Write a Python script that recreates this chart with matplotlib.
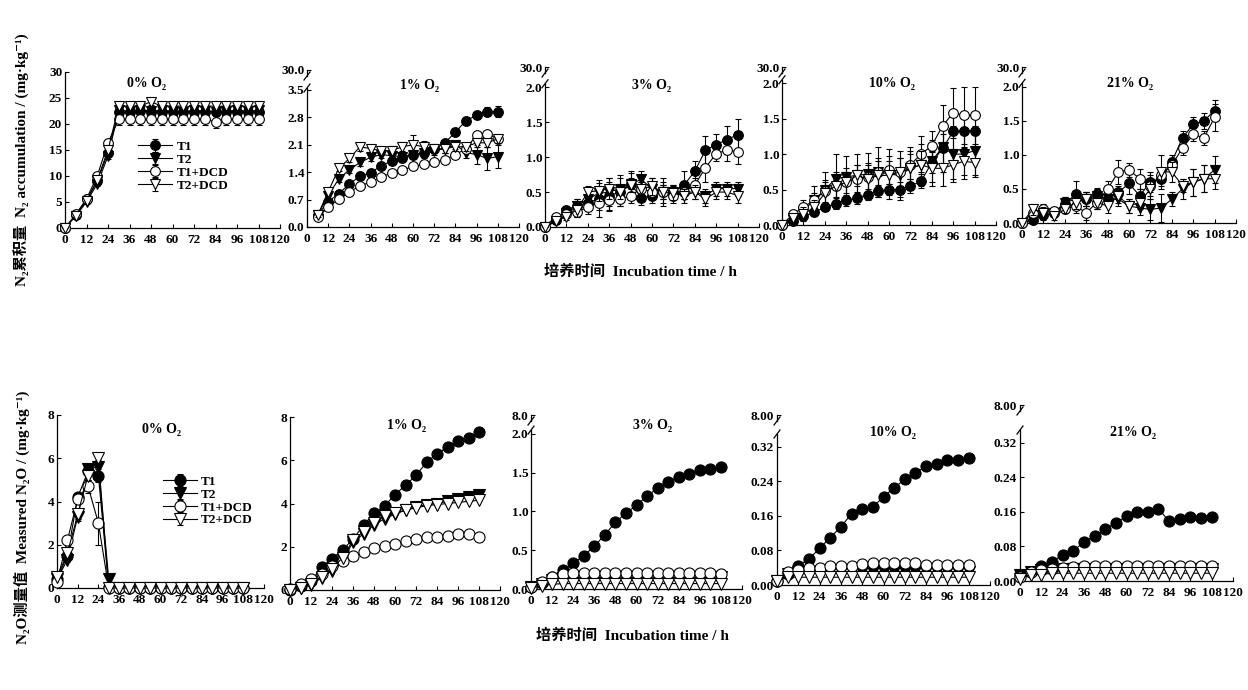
import numpy as np
import matplotlib.pyplot as plt

plt.rcParams['font.family'] = ['Liberation Serif', 'DejaVu Serif', 'Noto Sans CJK SC']
plt.rcParams['font.weight'] = 'bold'
plt.rcParams['axes.linewidth'] = 0.9

hours = [0, 6, 12, 18, 24, 30, 36, 42, 48, 54, 60, 66, 72, 78, 84, 90, 96, 102, 108]
treatments = ['T1', 'T2', 'T1+DCD', 'T2+DCD']
o2_labels = ['0% O₂', '1% O₂', '3% O₂', '10% O₂', '21% O₂']
x_ticks = [0, 12, 24, 36, 48, 60, 72, 84, 96, 108, 120]

# ---- N2 accumulation (mg/kg), rows: T1, T2, T1+DCD, T2+DCD ----
n2_0 = [
    [0, 2.5, 5.5, 9.0, 14.5, 22.4, 22.3, 22.5, 22.3, 22.4, 22.3, 22.4, 22.3, 22.4, 22.3, 22.4, 22.3, 22.3, 22.4],
    [0, 2.3, 5.0, 8.5, 13.8, 22.6, 22.5, 22.7, 22.5, 22.6, 22.5, 22.4, 22.6, 22.5, 22.4, 22.5, 22.6, 22.5, 22.6],
    [0, 2.6, 5.6, 10.0, 16.4, 20.9, 21.0, 20.9, 21.0, 20.9, 21.0, 20.9, 21.0, 20.9, 20.4, 21.0, 20.9, 21.0, 20.9],
    [0, 2.4, 5.2, 9.2, 15.0, 23.4, 23.5, 23.4, 24.3, 23.4, 23.5, 23.4, 23.4, 23.5, 23.4, 23.4, 23.5, 23.4, 23.4],
]
n2_0_err = [
    [0, 0.3, 0.4, 0.5, 0.6, 0.7, 0.7, 0.7, 0.7, 0.7, 0.7, 0.7, 0.7, 0.7, 0.7, 0.7, 0.7, 0.7, 0.7],
    [0, 0.3, 0.4, 0.5, 0.6, 0.8, 0.8, 0.8, 0.8, 0.8, 0.8, 0.8, 0.8, 0.8, 0.8, 0.8, 0.8, 0.8, 0.8],
    [0, 0.3, 0.4, 0.5, 0.6, 1.1, 1.1, 1.1, 1.1, 1.1, 1.1, 1.1, 1.1, 1.1, 1.1, 1.1, 1.1, 1.1, 1.1],
    [0, 0.3, 0.4, 0.5, 0.6, 0.7, 0.7, 0.7, 0.6, 0.7, 0.7, 0.7, 0.7, 0.7, 0.7, 0.7, 0.7, 0.7, 0.7],
]
n2_1 = [
    [None, 0.30, 0.65, 0.85, 1.10, 1.30, 1.38, 1.57, 1.68, 1.75, 1.85, 1.90, 2.00, 2.15, 2.42, 2.72, 2.85, 2.95, 2.95],
    [None, 0.30, 0.80, 1.23, 1.46, 1.65, 1.78, 1.85, 1.82, 1.80, 1.85, 1.88, 1.95, 2.00, 2.10, 1.90, 1.85, 1.75, 1.80],
    [None, 0.25, 0.50, 0.72, 0.90, 1.05, 1.15, 1.28, 1.38, 1.45, 1.55, 1.60, 1.65, 1.72, 1.85, 2.00, 2.35, 2.38, 2.25],
    [None, 0.30, 0.90, 1.50, 1.75, 2.05, 2.00, 1.95, 1.95, 2.05, 2.10, 2.05, 2.00, 2.00, 2.05, 2.05, 2.15, 2.15, 2.25],
]
n2_1_err = [
    [0, 0.05, 0.05, 0.05, 0.05, 0.05, 0.05, 0.05, 0.05, 0.08, 0.10, 0.10, 0.10, 0.08, 0.08, 0.10, 0.10, 0.12, 0.15],
    [0, 0.05, 0.08, 0.08, 0.08, 0.10, 0.10, 0.10, 0.10, 0.10, 0.12, 0.12, 0.10, 0.10, 0.10, 0.15, 0.25, 0.30, 0.30],
    [0, 0.05, 0.05, 0.05, 0.05, 0.05, 0.05, 0.05, 0.05, 0.05, 0.05, 0.05, 0.05, 0.05, 0.05, 0.05, 0.08, 0.08, 0.08],
    [0, 0.05, 0.08, 0.08, 0.08, 0.10, 0.10, 0.12, 0.12, 0.12, 0.25, 0.15, 0.12, 0.10, 0.10, 0.10, 0.10, 0.10, 0.10],
]
n2_3 = [
    [0.00, 0.10, 0.25, 0.30, 0.35, 0.40, 0.45, 0.50, 0.62, 0.42, 0.45, 0.50, 0.50, 0.60, 0.80, 1.10, 1.18, 1.25, 1.32],
    [0.00, 0.08, 0.20, 0.30, 0.40, 0.48, 0.50, 0.55, 0.62, 0.68, 0.55, 0.50, 0.50, 0.50, 0.50, 0.45, 0.55, 0.55, 0.55],
    [0.00, 0.15, 0.18, 0.22, 0.28, 0.35, 0.38, 0.40, 0.45, 0.55, 0.50, 0.50, 0.45, 0.50, 0.60, 0.85, 1.05, 1.10, 1.08],
    [0.00, 0.08, 0.15, 0.25, 0.50, 0.52, 0.55, 0.50, 0.60, 0.55, 0.58, 0.50, 0.48, 0.45, 0.50, 0.40, 0.50, 0.50, 0.45],
]
n2_3_err = [
    [0, 0.03, 0.05, 0.10, 0.12, 0.15, 0.20, 0.20, 0.18, 0.10, 0.10, 0.10, 0.10, 0.20, 0.15, 0.20, 0.15, 0.20, 0.22],
    [0, 0.03, 0.05, 0.10, 0.12, 0.15, 0.20, 0.20, 0.15, 0.12, 0.15, 0.20, 0.10, 0.10, 0.10, 0.10, 0.10, 0.10, 0.10],
    [0, 0.03, 0.05, 0.08, 0.10, 0.20, 0.15, 0.10, 0.10, 0.10, 0.10, 0.15, 0.10, 0.10, 0.10, 0.20, 0.10, 0.15, 0.18],
    [0, 0.03, 0.05, 0.10, 0.08, 0.15, 0.15, 0.10, 0.10, 0.10, 0.12, 0.10, 0.10, 0.10, 0.10, 0.10, 0.10, 0.10, 0.10],
]
n2_10 = [
    [0.00, 0.05, 0.12, 0.18, 0.25, 0.30, 0.35, 0.38, 0.43, 0.48, 0.50, 0.50, 0.55, 0.62, 0.88, 1.08, 1.32, 1.33, 1.33],
    [0.00, 0.08, 0.20, 0.35, 0.50, 0.65, 0.68, 0.70, 0.72, 0.75, 0.72, 0.70, 0.80, 0.85, 0.90, 1.10, 1.00, 1.00, 1.05],
    [0.00, 0.15, 0.25, 0.35, 0.48, 0.55, 0.60, 0.65, 0.68, 0.75, 0.78, 0.75, 0.85, 1.00, 1.12, 1.40, 1.58, 1.55, 1.55],
    [0.00, 0.10, 0.15, 0.25, 0.45, 0.55, 0.60, 0.70, 0.65, 0.70, 0.70, 0.75, 0.80, 0.85, 0.80, 0.80, 0.85, 0.90, 0.88],
]
n2_10_err = [
    [0, 0.03, 0.05, 0.05, 0.05, 0.08, 0.08, 0.08, 0.08, 0.08, 0.08, 0.10, 0.10, 0.10, 0.15, 0.20, 0.25, 0.25, 0.25],
    [0, 0.05, 0.10, 0.20, 0.25, 0.35, 0.30, 0.30, 0.30, 0.35, 0.35, 0.35, 0.30, 0.30, 0.30, 0.35, 0.40, 0.35, 0.35],
    [0, 0.05, 0.10, 0.10, 0.15, 0.20, 0.20, 0.20, 0.20, 0.20, 0.20, 0.20, 0.20, 0.25, 0.20, 0.30, 0.35, 0.40, 0.40],
    [0, 0.05, 0.10, 0.10, 0.15, 0.15, 0.15, 0.15, 0.20, 0.20, 0.20, 0.20, 0.20, 0.20, 0.25, 0.25, 0.20, 0.20, 0.20],
]
n2_21 = [
    [0.00, 0.05, 0.12, 0.15, 0.28, 0.42, 0.35, 0.42, 0.35, 0.45, 0.58, 0.40, 0.60, 0.65, 0.90, 1.25, 1.45, 1.50, 1.65],
    [0.00, 0.05, 0.10, 0.15, 0.30, 0.35, 0.35, 0.40, 0.35, 0.35, 0.25, 0.22, 0.20, 0.22, 0.35, 0.50, 0.60, 0.65, 0.78],
    [0.00, 0.15, 0.20, 0.18, 0.20, 0.25, 0.15, 0.30, 0.50, 0.75, 0.78, 0.65, 0.55, 0.70, 0.85, 1.10, 1.30, 1.25, 1.55],
    [0.00, 0.20, 0.15, 0.10, 0.20, 0.30, 0.35, 0.30, 0.25, 0.40, 0.25, 0.30, 0.50, 0.75, 0.75, 0.55, 0.60, 0.65, 0.65],
]
n2_21_err = [
    [0, 0.03, 0.05, 0.05, 0.10, 0.20, 0.10, 0.10, 0.10, 0.10, 0.15, 0.10, 0.15, 0.10, 0.10, 0.10, 0.10, 0.12, 0.15],
    [0, 0.03, 0.05, 0.05, 0.08, 0.10, 0.10, 0.10, 0.10, 0.10, 0.10, 0.10, 0.15, 0.20, 0.10, 0.15, 0.20, 0.20, 0.20],
    [0, 0.05, 0.08, 0.05, 0.05, 0.10, 0.10, 0.10, 0.12, 0.18, 0.10, 0.15, 0.15, 0.10, 0.10, 0.10, 0.10, 0.10, 0.20],
    [0, 0.08, 0.08, 0.05, 0.05, 0.10, 0.10, 0.10, 0.10, 0.10, 0.10, 0.10, 0.15, 0.25, 0.15, 0.10, 0.20, 0.20, 0.15],
]

# ---- measured N2O (mg/kg), rows: T1, T2, T1+DCD, T2+DCD ----
n2o_0 = [
    [0.4, 1.5, 4.2, 5.4, 5.2, 0.05, 0, 0, 0, 0, 0, 0, 0, 0, 0, 0, 0, 0, 0],
    [0.4, 1.3, 3.3, 5.5, 5.6, 0.4, 0, 0, 0, 0, 0, 0, 0, 0, 0, 0, 0, 0, 0],
    [0.3, 2.2, 4.1, 4.7, 3.0, 0, 0, 0, 0, 0, 0, 0, 0, 0, 0, 0, 0, 0, 0],
    [0.5, 1.6, 3.4, 5.2, 6.0, 0, 0, 0, 0, 0, 0, 0, 0, 0, 0, 0, 0, 0, 0],
]
n2o_0_err = [
    [0, 0.1, 0.2, 0.2, 0.3, 0, 0, 0, 0, 0, 0, 0, 0, 0, 0, 0, 0, 0, 0],
    [0, 0.1, 0.2, 0.2, 0.3, 0.1, 0, 0, 0, 0, 0, 0, 0, 0, 0, 0, 0, 0, 0],
    [0, 0.1, 0.2, 0.3, 1.0, 0, 0, 0, 0, 0, 0, 0, 0, 0, 0, 0, 0, 0, 0],
    [0, 0.1, 0.2, 0.2, 0.2, 0, 0, 0, 0, 0, 0, 0, 0, 0, 0, 0, 0, 0, 0],
]
n2o_1 = [
    [0.0, 0.2, 0.4, 1.05, 1.45, 1.85, 2.35, 3.0, 3.55, 3.9, 4.4, 4.85, 5.3, 5.9, 6.3, 6.6, 6.9, 7.05, 7.3],
    [0.0, 0.1, 0.25, 0.55, 0.9, 1.4, 2.2, 2.6, 3.0, 3.3, 3.5, 3.7, 3.85, 3.95, 4.0, 4.1, 4.2, 4.3, 4.4],
    [0.05, 0.3, 0.5, 0.75, 1.1, 1.35, 1.55, 1.75, 1.95, 2.05, 2.15, 2.25, 2.35, 2.45, 2.45, 2.5, 2.6, 2.6, 2.45],
    [0.0, 0.1, 0.3, 0.6, 0.95, 1.5, 2.3, 2.7, 3.1, 3.4, 3.55, 3.7, 3.8, 3.9, 3.95, 4.0, 4.05, 4.1, 4.15],
]
n2o_3 = [
    [0.02, 0.08, 0.15, 0.25, 0.33, 0.43, 0.55, 0.70, 0.86, 0.98, 1.08, 1.20, 1.30, 1.38, 1.45, 1.48, 1.54, 1.55, 1.57],
    [0.02, 0.06, 0.11, 0.14, 0.15, 0.15, 0.15, 0.15, 0.15, 0.15, 0.15, 0.15, 0.15, 0.15, 0.15, 0.15, 0.15, 0.15, 0.15],
    [0.02, 0.09, 0.15, 0.19, 0.20, 0.20, 0.20, 0.20, 0.20, 0.20, 0.20, 0.20, 0.20, 0.20, 0.20, 0.20, 0.20, 0.20, 0.19],
    [0.01, 0.04, 0.06, 0.07, 0.07, 0.07, 0.07, 0.07, 0.07, 0.07, 0.07, 0.07, 0.07, 0.07, 0.07, 0.07, 0.07, 0.07, 0.07],
]
n2o_10 = [
    [0.010, 0.025, 0.045, 0.060, 0.085, 0.110, 0.135, 0.165, 0.175, 0.180, 0.205, 0.225, 0.245, 0.260, 0.275, 0.280, 0.290, 0.290, 0.295],
    [0.010, 0.025, 0.030, 0.030, 0.030, 0.030, 0.030, 0.030, 0.030, 0.030, 0.030, 0.030, 0.030, 0.030, 0.030, 0.030, 0.030, 0.030, 0.030],
    [0.010, 0.030, 0.035, 0.040, 0.040, 0.045, 0.045, 0.045, 0.048, 0.050, 0.050, 0.050, 0.050, 0.050, 0.046, 0.046, 0.046, 0.046, 0.046],
    [0.010, 0.018, 0.018, 0.018, 0.018, 0.018, 0.018, 0.018, 0.018, 0.018, 0.018, 0.018, 0.018, 0.018, 0.018, 0.018, 0.018, 0.018, 0.018],
]
n2o_21 = [
    [0.015, 0.020, 0.035, 0.045, 0.060, 0.070, 0.090, 0.105, 0.120, 0.135, 0.150, 0.160, 0.160, 0.168, 0.138, 0.143, 0.148, 0.145, 0.148],
    [0.015, 0.020, 0.025, 0.027, 0.027, 0.027, 0.027, 0.027, 0.027, 0.027, 0.027, 0.027, 0.027, 0.027, 0.027, 0.027, 0.027, 0.027, 0.027],
    [0.010, 0.020, 0.025, 0.028, 0.030, 0.032, 0.035, 0.035, 0.035, 0.035, 0.035, 0.035, 0.035, 0.035, 0.035, 0.035, 0.035, 0.035, 0.035],
    [0.005, 0.015, 0.015, 0.018, 0.018, 0.018, 0.018, 0.018, 0.018, 0.018, 0.018, 0.018, 0.018, 0.018, 0.018, 0.018, 0.018, 0.018, 0.018],
]

markers = ['o', 'v', 'o', 'v']
faces = ['black', 'black', 'white', 'white']

W, H = 1248, 690
fig = plt.figure(figsize=(W / 100, H / 100), dpi=100)


def add_axes(left, right, bottom, top):
    return fig.add_axes([left / W, 1 - bottom / H, (right - left) / W, (bottom - top) / H])


def draw_panel(ax, box, data, err, ms, yticks, ylabels, ytop, main_top):
    for i in range(4):
        y = np.array(data[i], dtype=float)
        e = None if err is None else err[i]
        ax.errorbar(hours, y, yerr=e, color='black', lw=0.8, marker=markers[i],
                    mfc=faces[i], mec='black', ms=ms, mew=0.8, capsize=2,
                    elinewidth=0.8, label=treatments[i], clip_on=False, zorder=3 + i)
    ax.set_xlim(0, 120)
    ax.set_ylim(0, ytop)
    ax.set_xticks(x_ticks)
    ax.set_xticklabels([str(v) for v in x_ticks])
    ax.set_yticks(yticks)
    ax.set_yticklabels(ylabels)
    ax.tick_params(direction='in', length=3, width=0.8, labelsize=9.5, pad=2)
    ax.tick_params(axis='x', pad=4)
    ax.spines['top'].set_visible(False)
    ax.spines['right'].set_visible(False)
    if main_top is not None:
        ax.spines['left'].set_bounds(0, main_top)
        w_px = box[1] - box[0]
        h_px = box[2] - box[3]
        f_lo = main_top / ytop
        f_hi = 1 - 6 / h_px
        ax.plot([0, 0], [f_hi, 1], color='black', lw=0.9, transform=ax.transAxes, clip_on=False)
        for f in (f_lo, f_hi):
            ax.plot([-3 / w_px, 3 / w_px], [f - 4 / h_px, f + 4 / h_px], color='black',
                    lw=0.9, transform=ax.transAxes, clip_on=False)


# layout of the panels in pixels: left, right, bottom (y=0), top (ylim top)
top_boxes = [(65, 280, 228, 72), (307, 519, 227, 70), (545, 759, 227, 67),
             (782, 996, 225, 67), (1022, 1236, 223, 67)]
bot_boxes = [(57, 264, 588, 415), (290, 500, 590, 417), (531, 742, 589, 415),
             (777, 990, 585, 415), (1020, 1233, 581, 405)]

top_data = [n2_0, n2_1, n2_3, n2_10, n2_21]
top_err = [n2_0_err, n2_1_err, n2_3_err, n2_10_err, n2_21_err]
bot_data = [n2o_0, n2o_1, n2o_3, n2o_10, n2o_21]
bot_err = [n2o_0_err, None, None, None, None]

t_ticks = [0, 0.5, 1.0, 1.5, 2.0]
t_labels = ['0.0', '0.5', '1.0', '1.5', '2.0']
top_axis = [
    ([0, 5, 10, 15, 20, 25, 30], ['0', '5', '10', '15', '20', '25', '30'], 30, None),
    ([0, 0.7, 1.4, 2.1, 2.8, 3.5, 4.01], ['0.0', '0.7', '1.4', '2.1', '2.8', '3.5', '30.0'], 4.01, 3.55),
    (t_ticks + [2.29], t_labels + ['30.0'], 2.29, 2.05),
    (t_ticks + [2.23], t_labels + ['30.0'], 2.23, 2.05),
    (t_ticks + [2.29], t_labels + ['30.0'], 2.29, 2.05),
]
s_ticks = [0, 0.08, 0.16, 0.24, 0.32]
s_labels = ['0.00', '0.08', '0.16', '0.24', '0.32']
bot_axis = [
    ([0, 2, 4, 6, 8], ['0', '2', '4', '6', '8'], 8, None),
    ([0, 2, 4, 6, 8], ['0', '2', '4', '6', '8'], 8, None),
    (t_ticks + [2.245], t_labels + ['8.0'], 2.245, 2.05),
    (s_ticks + [0.394], s_labels + ['8.00'], 0.394, 0.35),
    (s_ticks + [0.408], s_labels + ['8.00'], 0.408, 0.35),
]

top_title_pos = [(147, 83), (420, 86), (652, 86), (892, 83), (1130, 83)]
bot_title_pos = [(162, 430), (407, 425), (653, 425), (893, 432), (1133, 432)]

axes_top = []
for k in range(5):
    ax = add_axes(*top_boxes[k])
    yt, yl, ytop, mt = top_axis[k]
    draw_panel(ax, top_boxes[k], top_data[k], top_err[k], 7, yt, yl, ytop, mt)
    fig.text(top_title_pos[k][0] / W, 1 - top_title_pos[k][1] / H, o2_labels[k],
             ha='center', va='center', fontsize=10)
    axes_top.append(ax)

axes_bot = []
for k in range(5):
    ax = add_axes(*bot_boxes[k])
    yt, yl, ytop, mt = bot_axis[k]
    draw_panel(ax, bot_boxes[k], bot_data[k], bot_err[k], 8, yt, yl, ytop, mt)
    fig.text(bot_title_pos[k][0] / W, 1 - bot_title_pos[k][1] / H, o2_labels[k],
             ha='center', va='center', fontsize=10)
    axes_bot.append(ax)

for ax, anchor in ((axes_top[0], (0.34, 0.56)), (axes_bot[0], (0.51, 0.65))):
    ax.legend(loc='upper left', bbox_to_anchor=anchor, frameon=False, fontsize=9.5,
              handlelength=2.6, handletextpad=0.3, labelspacing=0.05,
              borderpad=0, borderaxespad=0, numpoints=1)

fig.text(640 / W, 1 - 272 / H, '培养时间  Incubation time / h', ha='center', va='center', fontsize=11)
fig.text(632 / W, 1 - 636 / H, '培养时间  Incubation time / h', ha='center', va='center', fontsize=11)
fig.text(22 / W, 1 - 160 / H, 'N₂累积量  N₂ accumulation / (mg·kg⁻¹)', rotation=90,
         ha='center', va='center', fontsize=11)
fig.text(22 / W, 1 - 517 / H, 'N₂O测量值  Measured N₂O / (mg·kg⁻¹)', rotation=90,
         ha='center', va='center', fontsize=11)

fig.savefig('out.png', dpi=100)
